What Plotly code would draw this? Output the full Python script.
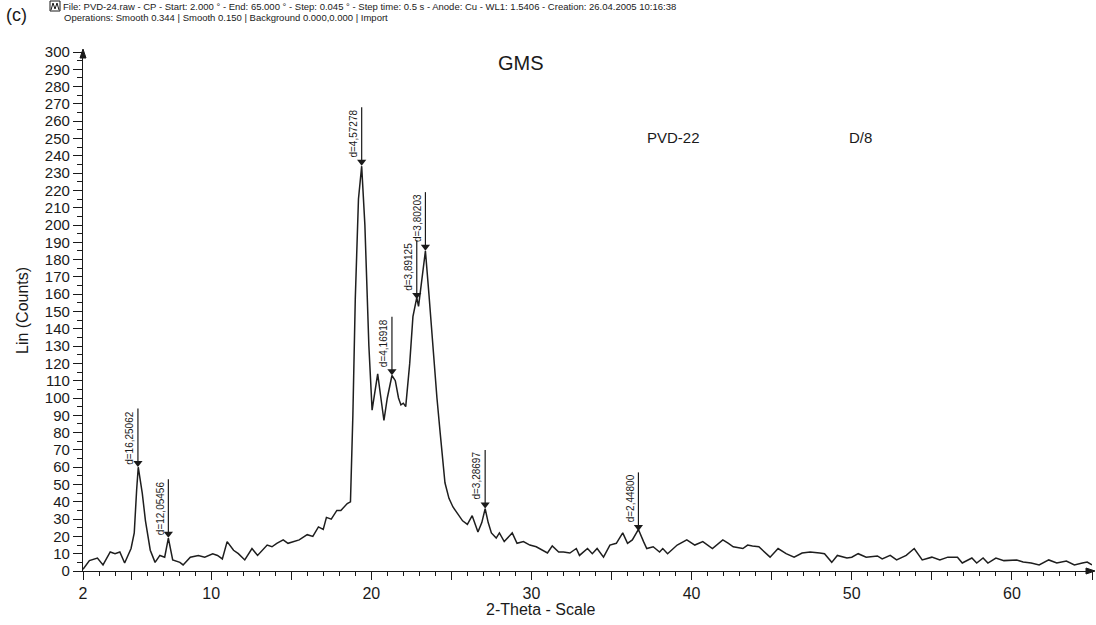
import plotly.graph_objects as go

# ---- data ----
two_theta = [2.0, 2.4, 2.9, 3.25, 3.7, 4.0, 4.3, 4.6, 5.0, 5.2, 5.35, 5.45, 5.7, 5.9, 6.2, 6.5, 6.8, 7.1,
             7.33, 7.6, 8.05, 8.25, 8.7, 9.2, 9.6, 10.1, 10.4, 10.7, 11.0, 11.4, 11.7, 12.1, 12.55, 12.9,
             13.5, 13.8, 14.1, 14.5, 14.8, 15.1, 15.5, 16.0, 16.35, 16.7, 17.0, 17.2, 17.5, 17.85, 18.1,
             18.5, 18.7, 18.85, 19.0, 19.2, 19.4, 19.6, 19.85, 20.05, 20.25, 20.4, 20.6, 20.79, 21.0,
             21.29, 21.5, 21.7, 21.85, 22.0, 22.15, 22.4, 22.6, 22.84, 22.95, 23.1, 23.38, 23.6, 23.85,
             24.1, 24.3, 24.6, 24.85, 25.1, 25.4, 25.7, 26.0, 26.3, 26.66, 26.9, 27.11, 27.3, 27.5, 27.8,
             28.0, 28.3, 28.8, 29.1, 29.5, 29.9, 30.3, 30.7, 31.0, 31.3, 31.7, 32.0, 32.4, 32.8, 33.0,
             33.5, 33.8, 34.1, 34.5, 34.9, 35.3, 35.7, 36.0, 36.3, 36.68, 37.0, 37.2, 37.6, 38.0, 38.2,
             38.5, 39.1, 39.7, 40.2, 40.7, 41.3, 41.95, 42.3, 42.6, 43.2, 43.5, 43.8, 44.2, 44.9, 45.4,
             45.9, 46.4, 46.9, 47.4, 48.0, 48.3, 48.75, 49.1, 49.7, 50.0, 50.4, 50.9, 51.6, 51.9, 52.4,
             52.8, 53.4, 53.9, 54.4, 55.0, 55.5, 56.0, 56.6, 56.9, 57.5, 57.8, 58.2, 58.5, 59.0, 59.5,
             60.3, 60.7, 61.2, 61.7, 62.3, 62.8, 63.4, 63.9, 64.4, 64.7, 65.0]
counts = [1, 6, 7.5, 3.5, 11, 10, 11, 4.6, 13, 22, 47, 60, 45, 29, 12, 5, 9, 8,
          19, 6.4, 5, 3.5, 8, 9, 8, 10, 9, 7, 17, 12, 10, 6.4, 13, 9,
          15, 14, 16, 18, 16, 17, 18, 21, 20, 25.5, 24, 31, 30, 35, 35,
          39, 40, 90, 157, 215, 234, 200, 130, 93, 105, 114, 100, 87, 100,
          113, 110, 100, 96, 97, 95, 120, 147, 158, 153, 165, 185, 160, 128,
          100, 80, 51, 42, 37, 33, 29, 27, 32, 22.5, 28, 36, 28, 22, 19,
          22, 17, 22, 16, 17, 15, 14, 12, 10.4, 14.5, 11, 11, 10.4, 13, 9,
          13, 10, 13, 8, 15, 16, 22, 16, 18, 24, 17, 13, 14, 11, 13,
          10, 15, 18, 15, 17, 13, 18, 16, 14, 13, 15, 14.5, 14, 8, 13,
          10, 8, 10.4, 11, 10.4, 10, 5, 9, 7.5, 8, 10, 8, 8.7, 7, 9,
          6.4, 9, 13, 6.4, 8, 6.4, 8, 8, 4.6, 7.5, 4.6, 7.5, 4.6, 7.5, 6,
          6.4, 5.2, 4.6, 3.5, 6.4, 4.6, 5.8, 3.5, 4.6, 5.2, 3.5]

peak_2theta = [5.43, 7.33, 19.40, 21.29, 22.84, 23.38, 27.11, 36.68]
peak_counts = [60, 19, 234, 113, 157, 185, 36, 23]
peak_labels = ["d=16,25062", "d=12,05456", "d=4,57278", "d=4,16918",
               "d=3,89125", "d=3,80203", "d=3,28697", "d=2,44800"]

y_tick_vals = list(range(0, 301, 10))
x_tick_labels = ["2", "10", "20", "30", "40", "50", "60"]
x_tick_vals = [2, 10, 20, 30, 40, 50, 60]

FONT = "Liberation Sans, Arial, sans-serif"
INK = "#1a1a1a"
LINE_LEN = 34  # counts, length of the marker stem above a peak

fig = go.Figure()

fig.add_trace(go.Scatter(x=two_theta, y=counts, mode="lines",
                         line=dict(color="#1e1e1e", width=1.5), hoverinfo="skip"))

# peak stems
sx, sy = [], []
for px_, py_ in zip(peak_2theta, peak_counts):
    sx += [px_, px_, None]
    sy += [py_ + 3, py_ + LINE_LEN, None]
fig.add_trace(go.Scatter(x=sx, y=sy, mode="lines", line=dict(color=INK, width=1.2), hoverinfo="skip"))
fig.add_trace(go.Scatter(x=peak_2theta, y=[c + 2.5 for c in peak_counts], mode="markers",
                         marker=dict(symbol="triangle-down", size=8, color=INK), hoverinfo="skip"))

for px_, py_, lab in zip(peak_2theta, peak_counts, peak_labels):
    fig.add_annotation(x=px_, y=py_ + LINE_LEN, xref="x", yref="y", text=lab, textangle=-90,
                       showarrow=False, xanchor="right", yanchor="top", xshift=-1,
                       font=dict(family=FONT, size=10, color=INK))

# x tick positions: long at every 5, labelled at the 10s
major_x = [2] + list(range(5, 66, 5))
major_text = [x_tick_labels[x_tick_vals.index(v)] if v in x_tick_vals else "" for v in major_x]
minor_x = [v for v in range(3, 66) if v % 5 != 0]

fig.update_xaxes(range=[2, 65], showgrid=False, zeroline=False, showline=True,
                 linecolor=INK, linewidth=1.3, ticks="outside", ticklen=8, tickwidth=1.2,
                 tickcolor=INK, tickmode="array", tickvals=major_x, ticktext=major_text,
                 tickfont=dict(family=FONT, size=16, color=INK),
                 minor=dict(tickmode="array", tickvals=minor_x, ticks="outside", ticklen=4,
                            tickcolor=INK, tickwidth=1))
fig.update_yaxes(range=[0, 300], showgrid=False, zeroline=False, showline=True,
                 linecolor=INK, linewidth=1.3, ticks="outside", ticklen=9, tickwidth=1.2,
                 tickcolor=INK, tickmode="array", tickvals=y_tick_vals,
                 tickfont=dict(family=FONT, size=15, color=INK),
                 minor=dict(tickmode="linear", tick0=5, dtick=10, ticks="outside", ticklen=5,
                            tickcolor=INK, tickwidth=1))

W, H = 1096, 625
L, R, T, B = 83, 4, 52, 54
pw, ph = W - L - R, H - T - B


def px(x):
    return (x - L) / pw


def py(y):
    return (H - B - y) / ph


texts = [
    ("GMS", 521, 63, 20, "center"),
    ("PVD-22", 673, 137, 15, "center"),
    ("D/8", 860, 137, 15, "center"),
    ("2-Theta - Scale", 540, 609, 16, "center"),
    ("(c)", 16, 15, 18, "center"),
]
for t, x, y, s, a in texts:
    fig.add_annotation(x=px(x), y=py(y), xref="paper", yref="paper", text=t, showarrow=False,
                       xanchor=a, yanchor="middle", font=dict(family=FONT, size=s, color=INK))

fig.add_annotation(x=px(22), y=py(311), xref="paper", yref="paper", text="Lin (Counts)",
                   textangle=-90, showarrow=False, xanchor="center", yanchor="middle",
                   font=dict(family=FONT, size=16, color=INK))

header1 = ("File: PVD-24.raw - CP - Start: 2.000 ° - End: 65.000 ° - Step: 0.045 ° - Step time: 0.5 s"
           " - Anode: Cu - WL1: 1.5406 - Creation: 26.04.2005 10:16:38")
header2 = "Operations: Smooth 0.344 | Smooth 0.150 | Background 0.000,0.000 | Import"
fig.add_annotation(x=px(61), y=py(6), xref="paper", yref="paper", text=header1, showarrow=False,
                   xanchor="left", yanchor="middle", font=dict(family=FONT, size=9.5, color=INK))
fig.add_annotation(x=px(62), y=py(17), xref="paper", yref="paper", text=header2, showarrow=False,
                   xanchor="left", yanchor="middle", font=dict(family=FONT, size=9.5, color=INK))

# small file icon
fig.add_shape(type="rect", xref="paper", yref="paper", x0=px(50), x1=px(60), y0=py(11), y1=py(1),
              line=dict(color=INK, width=1))
fig.add_shape(type="path", xref="paper", yref="paper",
              path=f"M {px(51)},{py(10)} L {px(53)},{py(3)} L {px(55)},{py(9)} L {px(57)},{py(3)} L {px(59)},{py(10)}",
              line=dict(color=INK, width=1))

# axis arrow heads
fig.add_shape(type="path", xref="paper", yref="paper",
              path=f"M {px(80)},{py(58)} L {px(83)},{py(49)} L {px(86)},{py(58)} Z",
              fillcolor=INK, line=dict(color=INK, width=1))
fig.add_shape(type="path", xref="paper", yref="paper",
              path=f"M {px(1086)},{py(568)} L {px(1095)},{py(571)} L {px(1086)},{py(574)} Z",
              fillcolor=INK, line=dict(color=INK, width=1))

fig.update_layout(width=W, height=H, margin=dict(l=L, r=R, t=T, b=B), showlegend=False,
                  plot_bgcolor="white", paper_bgcolor="white")

fig.write_html("out.html")
